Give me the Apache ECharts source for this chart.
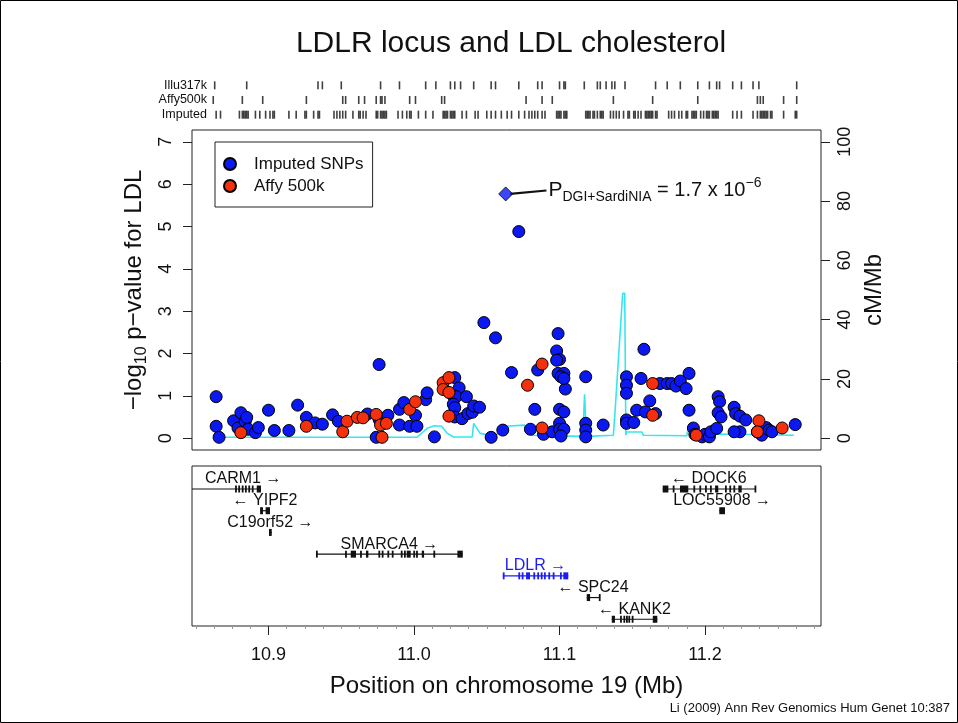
<!DOCTYPE html>
<html>
<head>
<meta charset="utf-8">
<title>LDLR locus and LDL cholesterol</title>
<script src="https://cdn.jsdelivr.net/npm/echarts@6/dist/echarts.min.js"></script>
<style>
html,body{margin:0;padding:0;background:#fff;}
#chart{width:958px;height:723px;}
</style>
</head>
<body>
<div id="chart"></div>
<script>
// positions are Mb on chromosome 19
const xMin = 10.8474, xMax = 11.2797;
const xTicks = [10.9, 11.0, 11.1, 11.2];
const pTicks = [0, 1, 2, 3, 4, 5, 6, 7];
const cmTicks = [0, 20, 40, 60, 80, 100];

// SNP coverage strips
const stripRows = ['Illu317k', 'Affy500k', 'Imputed'];
const illu317k = [10.863,10.885,10.934,10.937,10.950,10.977,10.990,11.008,11.015,11.025,11.028,11.032,11.041,11.053,11.056,11.072,11.085,11.088,11.100,11.103,11.104,11.117,11.126,11.128,11.132,11.136,11.138,11.145,11.166,11.174,11.183,11.195,11.203,11.208,11.210,11.219,11.225,11.233,11.237,11.263];
const affy500k = [10.862,10.882,10.896,10.926,10.951,10.953,10.962,10.966,10.974,10.977,10.978,10.980,10.997,11.001,11.019,11.021,11.077,11.088,11.095,11.137,11.164,11.195,11.236,11.238,11.240,11.254,11.263];
const imputed = [10.864,10.867,10.880,10.882,10.883,10.884,10.885,10.886,10.891,10.894,10.898,10.901,10.903,10.904,10.914,10.919,10.925,10.926,10.931,10.934,10.935,10.945,10.947,10.949,10.951,10.953,10.958,10.962,10.963,10.965,10.967,10.974,10.975,10.977,10.978,10.979,10.980,10.981,10.989,10.992,10.995,10.997,10.998,11.003,11.008,11.013,11.020,11.021,11.022,11.023,11.025,11.026,11.027,11.028,11.033,11.036,11.042,11.044,11.050,11.053,11.056,11.060,11.064,11.067,11.072,11.076,11.079,11.081,11.083,11.085,11.088,11.090,11.098,11.099,11.100,11.101,11.103,11.104,11.105,11.118,11.119,11.120,11.121,11.123,11.124,11.126,11.128,11.129,11.130,11.135,11.137,11.139,11.141,11.144,11.147,11.148,11.151,11.152,11.154,11.156,11.159,11.160,11.161,11.162,11.163,11.164,11.166,11.167,11.175,11.177,11.179,11.182,11.184,11.187,11.188,11.191,11.192,11.193,11.194,11.197,11.199,11.201,11.202,11.203,11.205,11.206,11.207,11.208,11.209,11.219,11.222,11.225,11.233,11.236,11.238,11.239,11.240,11.241,11.242,11.243,11.245,11.246,11.254,11.262,11.263];

// -log10 p for LDL  [position, value]
const imputedSnps = [[10.864,0.98],[10.864,0.28],[10.866,0.02],[10.876,0.41],[10.881,0.60],[10.879,0.24],[10.884,0.39],[10.885,0.49],[10.886,0.21],[10.891,0.13],[10.893,0.25],[10.900,0.66],[10.904,0.18],[10.914,0.18],[10.920,0.78],[10.926,0.49],[10.932,0.36],[10.937,0.33],[10.944,0.55],[10.948,0.40],[10.968,0.57],[10.976,1.74],[10.976,0.44],[10.982,0.54],[10.974,0.02],[10.990,0.31],[10.990,0.68],[10.993,0.84],[10.997,0.28],[11.001,0.54],[11.002,0.28],[11.008,0.91],[11.009,1.07],[11.014,0.03],[11.028,1.43],[11.031,1.19],[11.027,1.00],[11.029,0.98],[11.036,0.98],[11.027,0.80],[11.028,0.72],[11.028,0.50],[11.033,0.46],[11.037,0.58],[11.040,0.61],[11.041,0.76],[11.045,0.73],[11.048,2.73],[11.056,2.37],[11.053,0.02],[11.061,0.19],[11.067,1.55],[11.072,4.88],
  [11.080,0.21],[11.083,0.68],[11.085,1.61],[11.089,0.09],[11.095,0.15],[11.099,2.47],[11.098,2.06],[11.100,1.86],[11.098,1.84],[11.099,1.53],[11.103,1.53],[11.101,1.45],[11.104,1.16],[11.103,1.41],[11.100,0.68],[11.103,0.62],[11.100,0.35],[11.100,0.21],[11.103,0.21],[11.101,0.05],[11.118,1.45],[11.118,0.35],[11.118,0.19],[11.118,0.03],[11.130,0.31],[11.146,1.45],[11.146,1.25],[11.146,1.06],[11.146,0.43],[11.146,0.35],[11.151,0.37],[11.153,0.66],[11.156,1.41],[11.158,2.10],[11.159,0.62],[11.162,0.88],[11.166,0.58],[11.169,1.29],[11.174,1.29],[11.177,1.29],[11.180,1.23],[11.183,1.35],[11.187,1.17],[11.189,1.53],[11.189,0.66],[11.192,0.24],[11.193,0.09],[11.198,0.03],[11.200,0.09],[11.203,0.03],[11.204,0.15],[11.208,0.23],[11.209,0.98],[11.210,0.86],[11.209,0.60],[11.211,0.50],[11.220,0.73],[11.221,0.58],[11.224,0.52],[11.224,0.15],[11.228,0.43],[11.220,0.15],[11.236,0.15],[11.239,0.07],[11.242,0.25],[11.244,0.19],[11.246,0.15],[11.262,0.32]];
const affySnps = [[10.881,0.13],[10.926,0.28],[10.951,0.15],[10.954,0.40],[10.961,0.49],[10.965,0.48],[10.974,0.56],[10.977,0.31],[10.981,0.35],[10.978,0.02],[10.997,0.68],[11.001,0.86],[11.020,1.31],[11.020,1.15],[11.024,1.43],[11.024,1.08],[11.024,0.52],[11.078,1.25],[11.088,1.75],[11.088,0.24],[11.164,1.29],[11.164,0.54],[11.194,0.07],[11.237,0.41],[11.236,0.15],[11.253,0.24]];
const topSnp = [11.063, 5.77];
const topPointer = [[11.066, 5.77], [11.091, 5.85]];

// recombination rate (cM/Mb)
const recombPos = [10.864,11.002,11.009,11.014,11.019,11.0225,11.027,11.040,11.041,11.0454,11.052,11.057,11.0625,11.076,11.0775,11.081,11.116,11.1172,11.1185,11.137,11.138,11.1434,11.1448,11.1456,11.146,11.1565,11.1576,11.1874,11.189,11.1915,11.1966,11.208,11.261];
const recombRate = [0.3,0.3,3.3,4.2,4.0,1.8,0.4,0.4,5.0,1.6,1.0,1.3,4.0,4.4,2.1,1.0,0.6,14.8,0.6,1.0,7.8,48.9,48.9,1.0,2.1,2.1,1.0,0.8,4.7,1.0,1.2,1.4,1.0];

// genes
const geneNames = ['CARM1','YIPF2','C19orf52','SMARCA4','DOCK6','LOC55908','LDLR','SPC24','KANK2'];
const geneStrand = ['+','-','+','+','-','+','+','-','-'];
const geneRow = [1,2,3,4,1,2,5,6,7];
const geneStart = [10.843,10.8942,10.9003,10.9326,11.1709,11.2098,11.0610,11.1187,11.1359];
const geneEnd = [10.8948,10.9010,10.9022,11.0335,11.2344,11.2137,11.1060,11.1274,11.1672];
const geneExons = [
  [[10.8770,10.8776],[10.8792,10.8798],[10.8816,10.8822],[10.8838,10.8844],[10.8861,10.8867],[10.8885,10.8891],[10.8919,10.8948]],
  [[10.8942,10.8962],[10.8980,10.9010]],
  [[10.9003,10.9022]],
  [[10.9326,10.9330],[10.9526,10.9530],[10.9565,10.9601],[10.9629,10.9633],[10.9670,10.9686],[10.9755,10.9759],[10.9778,10.9782],[10.9817,10.9821],[10.9847,10.9851],[10.9909,10.9913],[10.9931,10.9935],[10.9950,10.9977],[10.9995,10.9999],[11.0014,11.0018],[11.0053,11.0069],[11.0133,11.0137],[11.0298,11.0335]],
  [[11.1709,11.1748],[11.1778,11.1782],[11.1828,11.1885],[11.1920,11.1924],[11.1961,11.1965],[11.2000,11.2004],[11.2034,11.2038],[11.2069,11.2091],[11.2137,11.2141],[11.2167,11.2171],[11.2195,11.2199],[11.2229,11.2252],[11.2340,11.2344]],
  [[11.2098,11.2137]],
  [[11.0610,11.0614],[11.0717,11.0721],[11.0740,11.0744],[11.0770,11.0797],[11.0820,11.0824],[11.0847,11.0851],[11.0871,11.0875],[11.0893,11.0897],[11.0923,11.0927],[11.0953,11.0957],[11.1003,11.1007],[11.1026,11.1060]],
  [[11.1187,11.1210],[11.1270,11.1274]],
  [[11.1359,11.1381],[11.1416,11.1420],[11.1439,11.1443],[11.1457,11.1461],[11.1473,11.1477],[11.1496,11.1500],[11.1641,11.1672]]
];

const FONT = '"Liberation Sans", Arial, Helvetica, sans-serif';
const INK = '#111';
const measure = document.createElement('canvas').getContext('2d');

let chart = echarts.init(document.getElementById('chart'));

function renderGene(params, api) {
  let i = params.dataIndex;
  let cs = params.coordSys;
  let p0 = api.coord([geneStart[i], geneRow[i]]);
  let p1 = api.coord([geneEnd[i], geneRow[i]]);
  let y = p0[1];
  let color = geneNames[i] === 'LDLR' ? '#1c1cf5' : INK;
  let kids = [{
    type: 'line',
    shape: { x1: p0[0], y1: y, x2: p1[0], y2: y },
    style: { stroke: color, lineWidth: 1.2 }
  }];
  geneExons[i].forEach(e => {
    let a = api.coord([e[0], geneRow[i]])[0];
    let b = api.coord([e[1], geneRow[i]])[0];
    kids.push({
      type: 'rect',
      shape: { x: a, y: y - 3.5, width: Math.max(b - a, 1.8), height: 7 },
      style: { fill: color }
    });
  });
  let txt = geneStrand[i] === '+' ? geneNames[i] + ' \u2192' : '\u2190 ' + geneNames[i];
  measure.font = '16px ' + FONT;
  let w = measure.measureText(txt).width;
  let cx = (p0[0] + p1[0]) / 2;
  // keep the label inside the panel
  if (cx - w / 2 < cs.x + 13) cx = cs.x + 13 + w / 2;
  kids.push({
    type: 'text',
    x: cx, y: y - 10,
    style: {
      text: txt, fill: color, fontSize: 16, fontFamily: FONT,
      align: 'center', verticalAlign: 'middle'
    }
  });
  return { type: 'group', children: kids };
}

const tickLine = { color: '#222', width: 1 };
const minorLine = { color: '#999', width: 1 };

chart.setOption({
  animation: false,
  backgroundColor: '#fff',
  textStyle: { fontFamily: FONT, color: INK },
  title: [{
    text: 'LDLR locus and LDL cholesterol',
    left: 506, top: 24, textAlign: 'center',
    textStyle: { fontSize: 30, fontWeight: 'normal', color: INK, fontFamily: FONT }
  }, {
    text: 'Li (2009) Ann Rev Genomics Hum Genet 10:387',
    right: 3, bottom: 3,
    textStyle: { fontSize: 13, fontWeight: 'normal', color: INK, fontFamily: FONT }
  }],
  graphic: [{
    type: 'rect', silent: true,
    shape: { x: 0.5, y: 0.5, width: 957, height: 722 },
    style: { fill: 'none', stroke: '#000', lineWidth: 1 }
  }],
  legend: {
    left: 215, top: 142, orient: 'vertical',
    padding: [13, 9, 12, 8], itemGap: 4, itemWidth: 20, itemHeight: 12,
    borderColor: '#222', borderWidth: 1, borderRadius: 0,
    textStyle: { fontSize: 17, color: INK, lineHeight: 18, padding: [0, 0, 0, 9] },
    data: [{ name: 'Imputed SNPs', icon: 'circle' }, { name: 'Affy 500k', icon: 'circle' }]
  },
  grid: [
    { left: 192, right: 137, top: 78, height: 44 },
    { left: 192, right: 137, top: 130, height: 320, show: true, borderColor: '#222', borderWidth: 1 },
    { left: 192, right: 137, top: 466, height: 160, show: true, borderColor: '#222', borderWidth: 1 }
  ],
  xAxis: [
    { gridIndex: 0, type: 'value', min: xMin, max: xMax, show: false },
    {
      gridIndex: 1, type: 'value', min: xMin, max: xMax, position: 'bottom',
      axisLine: { show: false, onZero: false }, axisTick: { show: false },
      axisLabel: { show: false }, splitLine: { show: false }
    },
    {
      gridIndex: 2, type: 'value', min: xMin, max: xMax, position: 'bottom',
      axisLine: { show: false, onZero: false }, splitLine: { show: false },
      axisTick: { show: true, length: 9, lineStyle: tickLine, customValues: xTicks },
      minorTick: { show: true, splitNumber: 8, length: 3, lineStyle: minorLine },
      axisLabel: { customValues: xTicks, fontSize: 18, color: INK, margin: 20, formatter: v => v.toFixed(1) },
      name: 'Position on chromosome 19 (Mb)', nameLocation: 'middle', nameGap: 48,
      nameTextStyle: { fontSize: 24, color: INK }
    }
  ],
  yAxis: [
    {
      gridIndex: 0, type: 'category', data: stripRows, inverse: true,
      axisLine: { show: false }, axisTick: { show: false }, splitLine: { show: false },
      axisLabel: { interval: 0, margin: -15, fontSize: 12.5, color: INK }
    },
    {
      gridIndex: 1, type: 'value', position: 'left', min: -0.28, max: 7.28,
      axisLine: { show: false, onZero: false }, splitLine: { show: false },
      axisTick: { show: true, length: 9, lineStyle: tickLine, customValues: pTicks },
      axisLabel: { customValues: pTicks, rotate: 90, fontSize: 18, color: INK, margin: 17 },
      name: '{a|\u2212log}{b|10}{a| p\u2212value for LDL}', nameLocation: 'middle', nameGap: 36, nameRotate: 90,
      nameTextStyle: {
        fontSize: 24, color: INK,
        rich: {
          a: { fontSize: 24, lineHeight: 30, color: INK, fontFamily: FONT },
          b: { fontSize: 16, lineHeight: 16, verticalAlign: 'bottom', color: INK, fontFamily: FONT }
        }
      }
    },
    {
      gridIndex: 1, type: 'value', position: 'right', min: -4, max: 104,
      axisLine: { show: false, onZero: false }, splitLine: { show: false },
      axisTick: { show: true, length: 9, lineStyle: tickLine, customValues: cmTicks },
      axisLabel: { customValues: cmTicks, rotate: 90, fontSize: 18, color: INK, margin: 15 },
      name: 'cM/Mb', nameLocation: 'middle', nameGap: 38, nameRotate: 90,
      nameTextStyle: { fontSize: 24, color: INK }
    },
    { gridIndex: 2, type: 'value', min: -0.06, max: 7.31, inverse: true, show: false }
  ],
  series: [
    {
      name: 'strips', type: 'scatter', xAxisIndex: 0, yAxisIndex: 0, silent: true,
      symbol: 'rect', symbolSize: [1.6, 8], itemStyle: { color: INK },
      data: illu317k.map(v => [v, stripRows[0]])
        .concat(affy500k.map(v => [v, stripRows[1]]))
        .concat(imputed.map(v => [v, stripRows[2]]))
    },
    {
      name: 'recomb', type: 'line', xAxisIndex: 1, yAxisIndex: 2, silent: true,
      showSymbol: false, z: 1,
      lineStyle: { color: '#35e6f0', width: 1.6 },
      data: recombPos.map((p, i) => [p, recombRate[i]])
    },
    {
      name: 'Imputed SNPs', type: 'scatter', xAxisIndex: 1, yAxisIndex: 1, z: 3,
      symbol: 'circle', symbolSize: 12,
      itemStyle: { color: '#0b18f0', borderColor: '#000', borderWidth: 1, opacity: 1 },
      data: imputedSnps
    },
    {
      name: 'Affy 500k', type: 'scatter', xAxisIndex: 1, yAxisIndex: 1, z: 4,
      symbol: 'circle', symbolSize: 12,
      itemStyle: { color: '#f5300c', borderColor: '#000', borderWidth: 1, opacity: 1 },
      data: affySnps
    },
    {
      name: 'pointer', type: 'line', xAxisIndex: 1, yAxisIndex: 1, z: 4, silent: true,
      showSymbol: false, lineStyle: { color: INK, width: 2.2 },
      data: topPointer,
      endLabel: {
        show: true, distance: 2,
        formatter: '{p|P}{s|DGI+SardiNIA}{n| = 1.7 x 10}{e|\u22126}',
        rich: {
          p: { fontSize: 21, lineHeight: 28, color: INK, fontFamily: FONT },
          s: { fontSize: 14, lineHeight: 14, verticalAlign: 'bottom', color: INK, fontFamily: FONT },
          n: { fontSize: 20, lineHeight: 28, color: INK, fontFamily: FONT },
          e: { fontSize: 14, lineHeight: 14, verticalAlign: 'top', color: INK, fontFamily: FONT }
        }
      }
    },
    {
      name: 'top SNP', type: 'scatter', xAxisIndex: 1, yAxisIndex: 1, z: 5,
      symbol: 'diamond', symbolSize: 14,
      itemStyle: { color: '#0b18f0', borderColor: '#000', borderWidth: 1 },
      data: [topSnp]
    },
    {
      name: 'genes', type: 'custom', xAxisIndex: 2, yAxisIndex: 3, silent: true, clip: true,
      renderItem: renderGene,
      encode: { x: [0, 1], y: 2 },
      data: geneNames.map((n, i) => [geneStart[i], geneEnd[i], geneRow[i]])
    }
  ]
});
</script>
</body>
</html>
